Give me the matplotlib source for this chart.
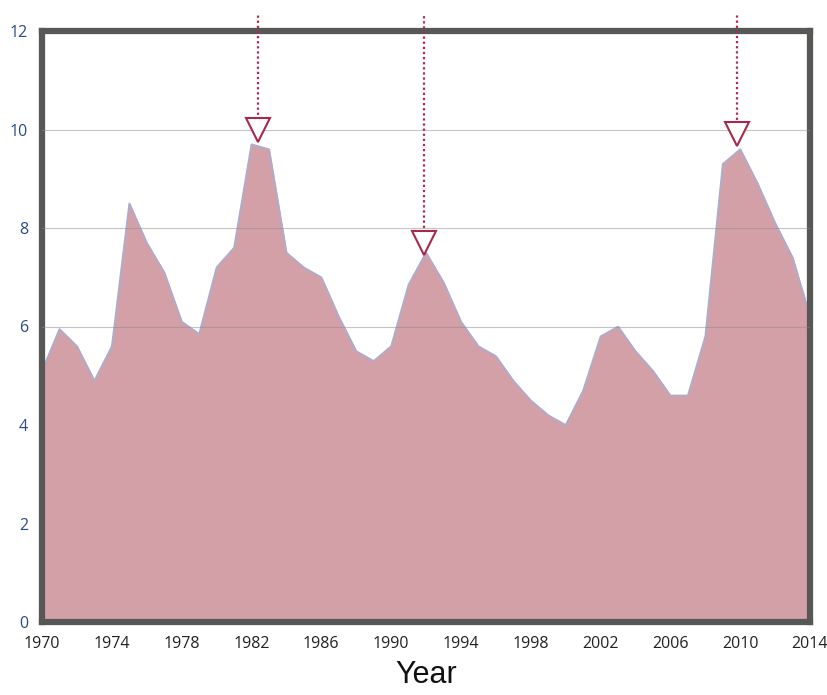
import numpy as np
import matplotlib
matplotlib.use("Agg")
import matplotlib.pyplot as plt

# annual rate, 1970-2014
years = list(range(1970, 2015))
rate = [5.1, 5.95, 5.6, 4.9, 5.6, 8.5, 7.7, 7.1, 6.1, 5.85,
        7.2, 7.6, 9.7, 9.6, 7.5, 7.2, 7.0, 6.2, 5.5, 5.3,
        5.6, 6.85, 7.5, 6.9, 6.1, 5.6, 5.4, 4.9, 4.5, 4.2,
        4.0, 4.7, 5.8, 6.0, 5.5, 5.1, 4.6, 4.6, 5.8, 9.3,
        9.6, 8.9, 8.1, 7.4, 6.2]

# peak markers (dotted drop-lines ending in open triangles)
arrow_years = [1982.4, 1991.9, 2009.8]
arrow_levels = [10.0, 7.7, 9.9]

x_ticks = list(range(1970, 2015, 4))
y_ticks = [0, 2, 4, 6, 8, 10, 12]
grid_levels = [6, 8, 10]

fig = plt.figure(figsize=(8.27, 6.95), dpi=100)
ax = fig.add_axes([42 / 827, 1 - 622 / 695, (810 - 42) / 827, (622 - 31) / 695])

ax.fill_between(years, rate, 0, color="#d4a0a8", zorder=1)
ax.plot(years, rate, color="#a9aed0", linewidth=1.2, zorder=2)

# grid lines sit on top of the fill
for g in grid_levels:
    ax.axhline(g, color="#8c8c8c", linewidth=0.8, alpha=0.5, zorder=3)

# drop lines with triangles
for yr, lv in zip(arrow_years, arrow_levels):
    ax.plot([yr, yr], [lv + 0.2, 12.35], color="#b0284f", linestyle=(0, (1.0, 1.3)),
            linewidth=1.6, clip_on=False, zorder=4)
    ax.plot(yr, lv, marker="v", markersize=17, markerfacecolor="white",
            markeredgecolor="#a8284a", markeredgewidth=1.5, clip_on=False, zorder=5)

ax.set_xlim(1970, 2014)
ax.set_ylim(0, 12)

for side in ["left", "right", "top", "bottom"]:
    ax.spines[side].set_color("#575755")
    ax.spines[side].set_linewidth(4.5)

ax.set_xticks(x_ticks)
ax.set_xticklabels([str(t) for t in x_ticks], fontsize=11.5, color="#222222",
                   family="Open Sans")
ax.set_yticks(y_ticks)
ax.set_yticklabels([str(t) for t in y_ticks], fontsize=11.5, color="#2a4a8c",
                   family="Open Sans")
ax.tick_params(axis="both", length=0)
ax.tick_params(axis="x", pad=10)
ax.tick_params(axis="y", pad=10)

ax.set_xlabel("Year", fontsize=22, color="#111111", labelpad=6,
              family="Liberation Sans")

fig.savefig("out.png", dpi=100)
